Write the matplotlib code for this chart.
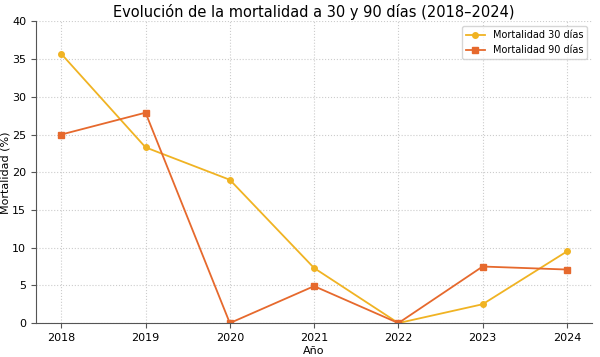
import numpy as np
import matplotlib
matplotlib.use('Agg')
import matplotlib.pyplot as plt

# data
years = [2018, 2019, 2020, 2021, 2022, 2023, 2024]
mort_30 = [35.7, 23.3, 19.0, 7.3, 0.0, 2.5, 9.5]
mort_90 = [25.0, 27.9, 0.0, 4.9, 0.0, 7.5, 7.1]

fig, ax = plt.subplots(figsize=(6, 3.57), dpi=100)

ax.plot(years, mort_30, color='#f0b323', marker='o', markersize=4, linewidth=1.3,
        label='Mortalidad 30 días')
ax.plot(years, mort_90, color='#e6692d', marker='s', markersize=4, linewidth=1.3,
        label='Mortalidad 90 días')

ax.set_title('Evolución de la mortalidad a 30 y 90 días (2018–2024)', fontsize=10.5, pad=3)
ax.set_xlabel('Año', fontsize=8, labelpad=2)
ax.set_ylabel('Mortalidad (%)', fontsize=8, labelpad=1)
ax.set_ylim(0, 40)
ax.set_xticks(years)
ax.tick_params(labelsize=8, color='#555555')
ax.grid(True, linestyle=':', color='#cccccc', linewidth=0.8)
for s in ['top', 'right']:
    ax.spines[s].set_visible(False)
for s in ['left', 'bottom']:
    ax.spines[s].set_color('#555555')
ax.legend(fontsize=7, loc='upper right')

fig.subplots_adjust(left=0.06, right=0.987, top=0.94, bottom=0.095)
fig.savefig('out.png')
